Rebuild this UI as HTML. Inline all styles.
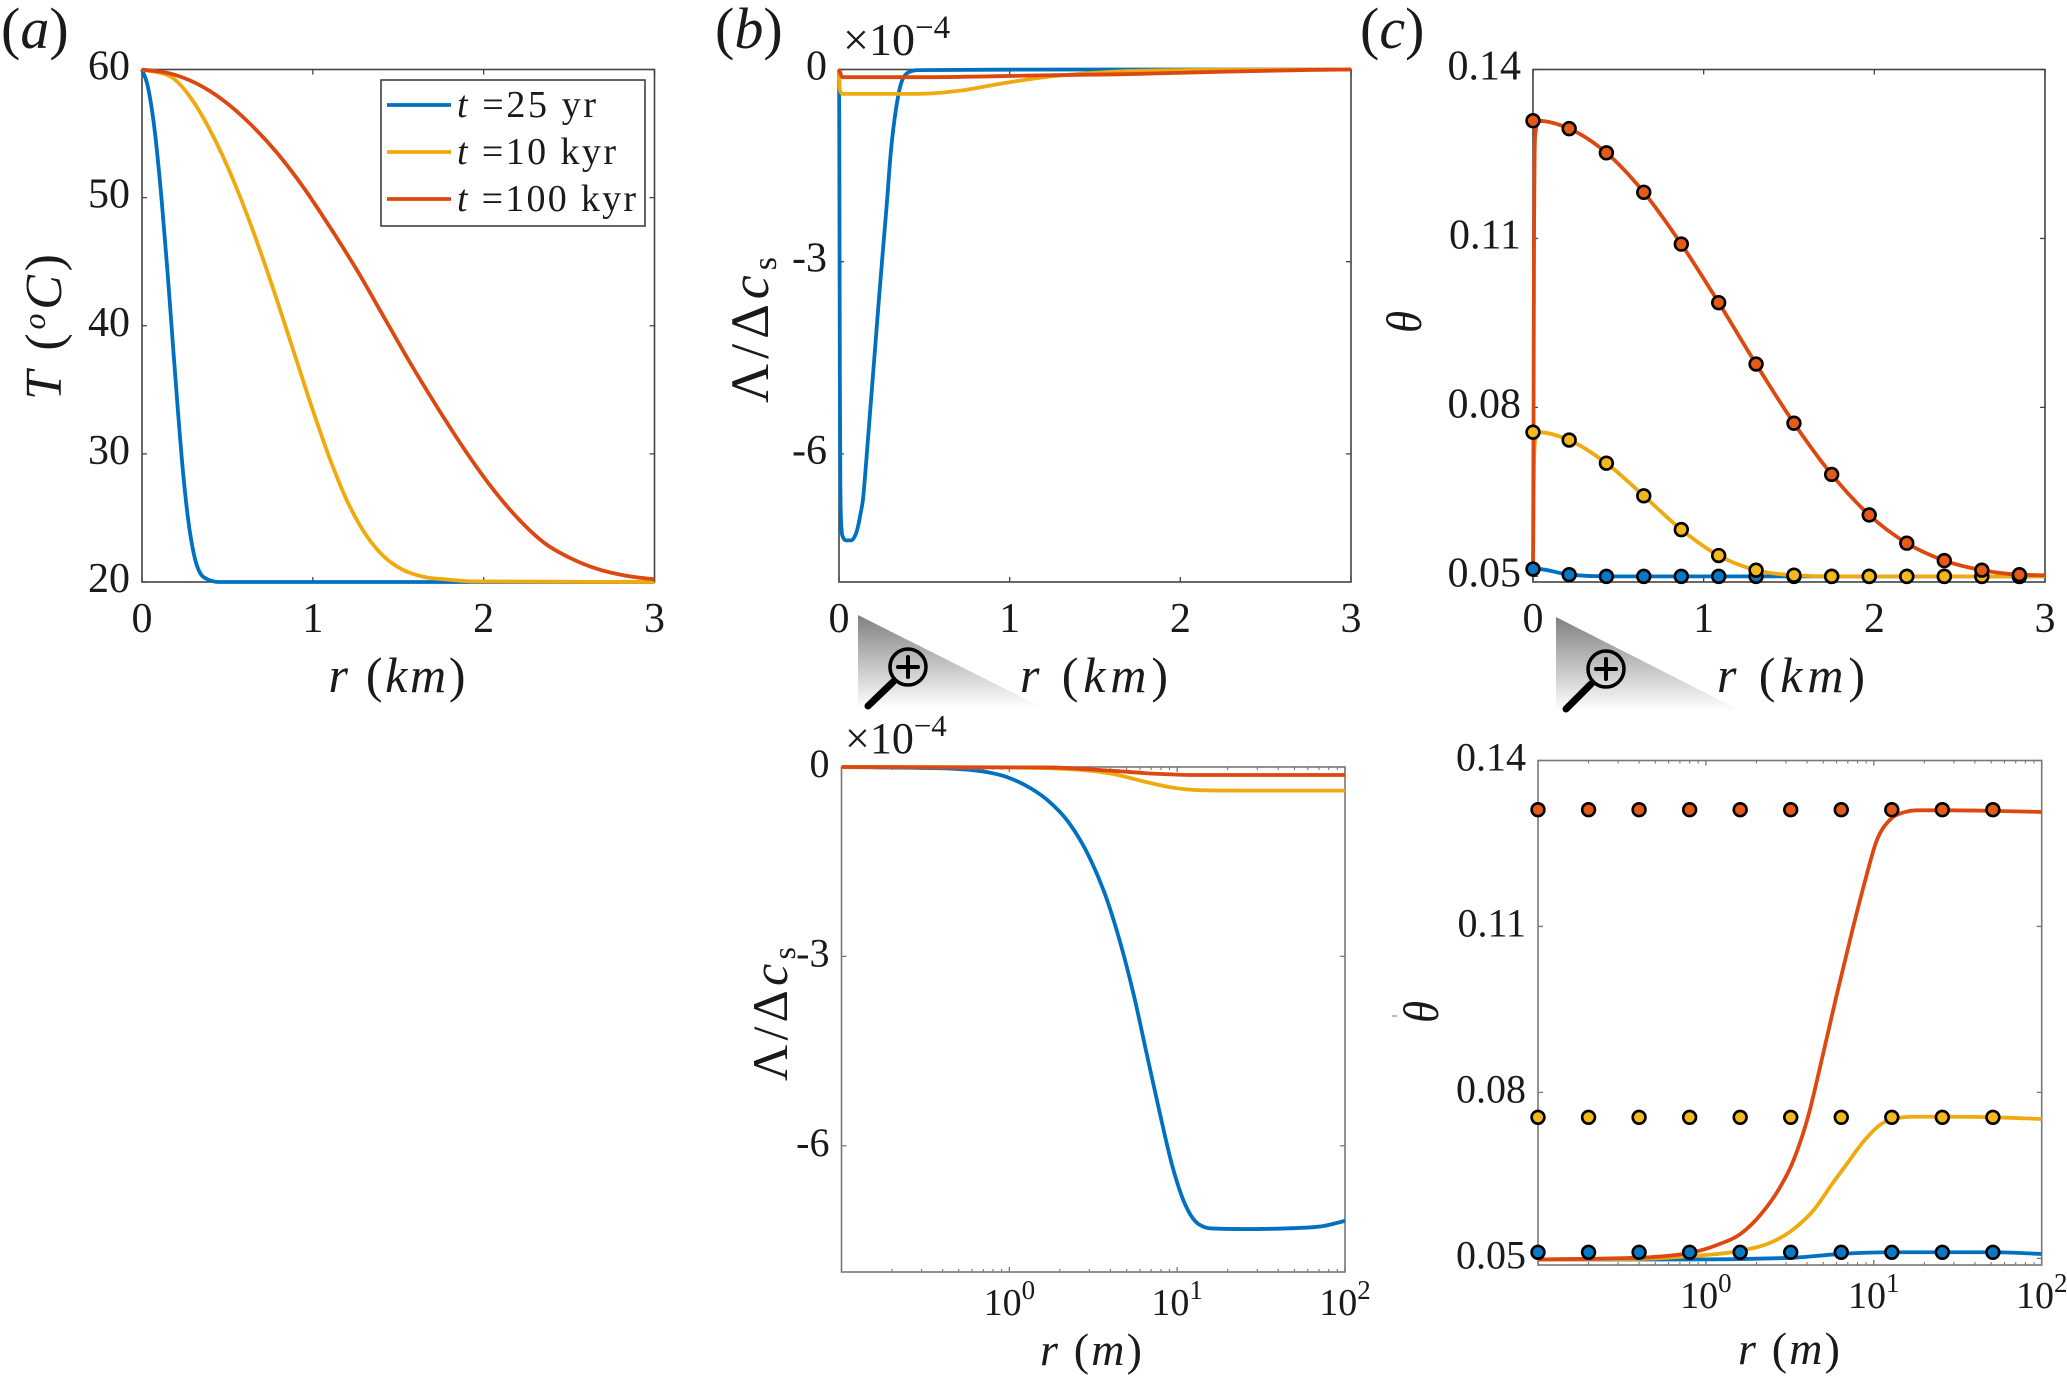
<!DOCTYPE html>
<html lang="en">
<head>
<meta charset="utf-8">
<title>Temperature, reaction rate and porosity profiles</title>
<style>
html,body{margin:0;padding:0;background:#fff;width:2067px;height:1381px;overflow:hidden}
svg{display:block;font-family:"Liberation Serif","DejaVu Serif",serif;fill:#1a1a1a}
</style>
</head>
<body>
<svg id="figure" xmlns="http://www.w3.org/2000/svg" width="2067" height="1381" viewBox="0 0 2067 1381">
  <defs>
    <linearGradient id="fade" x1="0" y1="0" x2="0" y2="1">
      <stop offset="0" stop-color="#808080"/>
      <stop offset="1" stop-color="#ffffff"/>
    </linearGradient>
  </defs>
  <text x="1" y="48" font-size="58">(<tspan font-style="italic">a</tspan>)</text>
  <text x="715" y="48" font-size="58">(<tspan font-style="italic">b</tspan>)</text>
  <text x="1360" y="48" font-size="58">(<tspan font-style="italic">c</tspan>)</text>

  <g>
    <polygon points="858,615 858,708 1043,708" fill="url(#fade)"/>
    <line x1="893" y1="682" x2="868" y2="706" stroke="#000" stroke-width="7" stroke-linecap="round"/>
    <circle cx="908" cy="667" r="18" fill="none" stroke="#000" stroke-width="3.5"/>
    <path d="M898 667H918M908 657V677" stroke="#000" stroke-width="4" stroke-linecap="round"/>
  </g>
  <g>
    <polygon points="1556,617 1556,711 1741,711" fill="url(#fade)"/>
    <line x1="1591" y1="684" x2="1566" y2="709" stroke="#000" stroke-width="7" stroke-linecap="round"/>
    <circle cx="1606" cy="669" r="18" fill="none" stroke="#000" stroke-width="3.5"/>
    <path d="M1596 669H1616M1606 659V679" stroke="#000" stroke-width="4" stroke-linecap="round"/>
  </g>

  <text transform="translate(61,327) rotate(-90)" text-anchor="middle" font-size="52" textLength="146"><tspan font-style="italic">T</tspan> (<tspan font-style="italic" font-size="32" dy="-16">o</tspan><tspan font-style="italic" dy="16">C</tspan>)</text>
  <text transform="translate(768,330) rotate(-90)" text-anchor="middle" font-size="54" textLength="146">Λ/Δ<tspan font-style="italic">c</tspan><tspan font-size="34" dy="8">s</tspan></text>
  <text transform="translate(787,1014) rotate(-90)" text-anchor="middle" font-size="50" textLength="134">Λ/Δ<tspan font-style="italic">c</tspan><tspan font-size="32" dy="8">s</tspan></text>
  <text transform="translate(1421,322) rotate(-90) scale(.9,1)" text-anchor="middle" font-size="50" font-style="italic">θ</text>
  <text transform="translate(1438,1012) rotate(-90) scale(.9,1)" text-anchor="middle" font-size="50" font-style="italic">θ</text>
  <line x1="1392" y1="1016" x2="1397" y2="1016" stroke="#888" stroke-width="1.2"/>

  <text x="397" y="692" text-anchor="middle" font-size="50" font-style="italic" textLength="137">r <tspan font-style="normal">(</tspan>km<tspan font-style="normal">)</tspan></text>
  <text x="1094" y="692" text-anchor="middle" font-size="50" font-style="italic" textLength="148">r <tspan font-style="normal">(</tspan>km<tspan font-style="normal">)</tspan></text>
  <text x="1791" y="692" text-anchor="middle" font-size="50" font-style="italic" textLength="148">r <tspan font-style="normal">(</tspan>km<tspan font-style="normal">)</tspan></text>
  <text x="1091" y="1365" text-anchor="middle" font-size="46" font-style="italic" textLength="102">r <tspan font-style="normal">(</tspan>m<tspan font-style="normal">)</tspan></text>
  <text x="1789" y="1364" text-anchor="middle" font-size="46" font-style="italic" textLength="102">r <tspan font-style="normal">(</tspan>m<tspan font-style="normal">)</tspan></text>

  <text x="843" y="55" font-size="46">×10<tspan font-size="33" dy="-17">−4</tspan></text>
  <text x="845" y="753" font-size="44">×10<tspan font-size="31" dy="-17">−4</tspan></text>

  <g id="plots"></g>

  <g>
    <rect x="381" y="80" width="264" height="146" fill="#fff" stroke="#333" stroke-width="1.5"/>
    <g>
      <line x1="387" y1="105" x2="451" y2="105" stroke="#0070c0" stroke-width="3.8"/>
      <text x="457" y="117" font-size="38" textLength="139"><tspan font-style="italic">t</tspan> =25 yr</text>
    </g>
    <g>
      <line x1="387" y1="152" x2="451" y2="152" stroke="#f0aa10" stroke-width="3.8"/>
      <text x="457" y="164" font-size="38" textLength="159"><tspan font-style="italic">t</tspan> =10 kyr</text>
    </g>
    <g>
      <line x1="387" y1="199" x2="451" y2="199" stroke="#dc4810" stroke-width="3.8"/>
      <text x="457" y="211" font-size="38" textLength="179"><tspan font-style="italic">t</tspan> =100 kyr</text>
    </g>
  </g>
</svg>

<script>
// ---- series labels ----
var seriesNames = ['25-yr', '10-kyr', '100-kyr'];

// ---- panel a: T(r), r in km ----
var tempBlueR = [0, .03, .07, .115, .15, .18, .21, .24, .27, .305, .345, .385, .45, 1, 1.8, 3];
var tempBlueT = [60, 58.9, 55.7, 49.8, 44.1, 38.7, 33.4, 28.6, 24.9, 22.1, 20.6, 20.2, 20, 20, 20, 20];
var tempYellowR = [0, .16, .29, .42, .555, .685, .79, .89, 1.0, 1.1, 1.205, 1.31, 1.415, 1.52, 1.65, 1.78, 1.94, 3];
var tempYellowT = [60, 59.5, 57.7, 54.7, 50.7, 46.1, 42, 37.9, 33.4, 29.6, 26.2, 23.7, 22, 21, 20.4, 20.2, 20.05, 20];
var tempRedR = [0, .16, .32, .475, .63, .79, .945, 1.1, 1.26, 1.415, 1.57, 1.73, 1.89, 2.04, 2.2, 2.36, 2.51, 2.67, 2.83, 3];
var tempRedT = [60, 59.7, 58.9, 57.6, 55.8, 53.5, 50.8, 47.7, 44.3, 40.7, 37.1, 33.6, 30.3, 27.5, 24.97, 23.0, 21.85, 21.0, 20.5, 20.2];
var tempXTicks = [0, 1, 2, 3];
var tempXLabels = ['0', '1', '2', '3'];
var tempYTicks = [20, 30, 40, 50, 60];
var tempYLabels = ['20', '30', '40', '50', '60'];

// ---- panel b top: rate (units of 1e-4), r in km ----
var rateKmBlueR = [0, .001, .003, .005, .008, .012, .02, .04, .07, .09, .11, .125, .14, .16, .185, .21, .235, .255, .28, .305, .335, .37, .41, .46, 1.5, 3];
var rateKmBlueV = [0, -.4, -2.5, -4.8, -6.5, -7.05, -7.28, -7.35, -7.35, -7.3, -7.15, -6.95, -6.72, -6.1, -5.25, -4.4, -3.55, -2.9, -2.1, -1.25, -.6, -.17, -.04, -.01, 0, 0];
var rateKmYellowR = [0, .005, .02, .2, .46, .71, .97, 1.22, 1.48, 1.73, 2.24, 3];
var rateKmYellowV = [0, -.32, -.38, -.38, -.38, -.33, -.21, -.115, -.055, -.022, -.005, 0];
var rateKmRedR = [0, .02, .5, 1.22, 1.73, 2.24, 2.75, 3];
var rateKmRedV = [0, -.12, -.12, -.09, -.07, -.035, -.007, 0];
var rateYTicks = [-6, -3, 0];
var rateYLabels = ['-6', '-3', '0'];

// ---- panel b bottom: rate (units of 1e-4), r in m ----
var rateMBlueR = [.1, .38, .648, 1, 1.32, 1.68, 2.26, 3.04, 3.85, 4.6, 5.5, 6.58, 7.86, 9.4, 11.2, 13.4, 16, 24.3, 44, 70.8, 100];
var rateMBlueV = [0, -.02, -.06, -.174, -.327, -.52, -.88, -1.463, -2.13, -2.8, -3.6, -4.54, -5.47, -6.34, -6.94, -7.24, -7.31, -7.32, -7.31, -7.28, -7.19];
var rateMYellowR = [.1, .925, 2.26, 4.09, 6.58, 9.4, 13.4, 24.3, 100];
var rateMYellowV = [0, -.007, -.033, -.107, -.24, -.327, -.367, -.374, -.374];
var rateMRedR = [.1, 1.68, 4.09, 7.41, 13.4, 100];
var rateMRedV = [0, -.007, -.06, -.107, -.127, -.127];
var logXTicks = [1, 10, 100];
var logXExponents = ['0', '1', '2'];

// ---- panel c top: theta, r in km ----
var thetaKmMarkerR = [0, .212, .43, .649, .869, 1.088, 1.307, 1.529, 1.75, 1.97, 2.19, 2.41, 2.63, 2.85];
var thetaKmRedM = [.1309, .1295, .1252, .1182, .1090, .0986, .0877, .0772, .0681, .0609, .0559, .0528, .0511, .0503];
var thetaKmYellowM = [.0756, .0742, .0701, .0643, .0583, .0537, .0511, .0502, .05, .05, .05, .05, .05, .05];
var thetaKmBlueM = [.0513, .0503, .05, .05, .05, .05, .05, .05, .05, .05, .05, .05, .05, .05];
var thetaKmRedR = [0, .003, .006, .012, .03, .212, .43, .649, .869, 1.088, 1.307, 1.529, 1.75, 1.97, 2.19, 2.41, 2.63, 2.85, 3];
var thetaKmRedV = [.05, .075, .11, .128, .1309, .1295, .1252, .1182, .1090, .0986, .0877, .0772, .0681, .0609, .0559, .0528, .0511, .0503, .0502];
var thetaKmYellowR = [0, .003, .006, .012, .03, .212, .43, .649, .869, 1.088, 1.307, 1.529, 1.75, 1.97, 3];
var thetaKmYellowV = [.05, .06, .07, .074, .0756, .0742, .0701, .0643, .0583, .0537, .0511, .0502, .05, .05, .05];
var thetaKmBlueR = [0, .01, .03, .212, .43, .649, 1.5, 3];
var thetaKmBlueV = [.05, .051, .0513, .0503, .05, .05, .05, .05];
var thetaYTicks = [.05, .08, .11, .14];
var thetaYLabels = ['0.05', '0.08', '0.11', '0.14'];

// ---- panel c bottom: theta, r in m ----
var thetaMMarkerR = [.1, .2, .4, .8, 1.6, 3.2, 6.4, 12.8, 25.6, 51.2];
var thetaMRedM = [.1311, .1311, .1311, .1311, .1311, .1311, .1311, .1311, .1311, .1311];
var thetaMYellowM = [.0755, .0755, .0755, .0755, .0755, .0755, .0755, .0755, .0755, .0755];
var thetaMBlueM = [.0511, .0511, .0511, .0511, .0511, .0511, .0511, .0511, .0511, .0511];
var thetaMRedR = [.1, .387, .804, 1.16, 1.62, 2.13, 2.72, 3.27, 4.05, 5, 6, 7.45, 8.9, 10.4, 12.5, 15, 18, 27.6, 50.8, 100];
var thetaMRedV = [.0498, .0501, .0510, .0524, .0545, .0580, .0625, .0672, .0755, .0871, .0975, .1093, .1184, .1255, .1293, .1306, .1310, .1310, .1309, .1307];
var thetaMYellowR = [.1, .387, .804, 1.62, 2.41, 3.27, 4.43, 5.66, 7, 8.67, 11.1, 13, 16.9, 27.6, 50.8, 100];
var thetaMYellowV = [.0498, .0499, .0504, .0514, .0528, .0551, .0589, .0635, .0673, .0711, .0743, .0752, .0756, .0756, .0755, .0752];
var thetaMBlueR = [.1, .804, 3.2, 6.4, 12.8, 50.8, 100];
var thetaMBlueV = [.0498, .0498, .0501, .0508, .0511, .0511, .0508];

var lineColors = ['#0070c0', '#f0aa10', '#dc4810'];
var markerColors = ['#0b78c6', '#f2b81c', '#e65a18'];
var NS = 'http://www.w3.org/2000/svg';
var root = document.getElementById('plots');

function make(tag, parent, attrs) {
  var el = document.createElementNS(NS, tag);
  for (var k in attrs) el.setAttribute(k, attrs[k]);
  parent.appendChild(el);
  return el;
}
function linScale(d0, d1, p0, p1) {
  return function (v) { return p0 + (v - d0) / (d1 - d0) * (p1 - p0); };
}
function logScale(d0, d1, p0, p1) {
  var a = Math.log10(d0), b = Math.log10(d1);
  return function (v) { return p0 + (Math.log10(v) - a) / (b - a) * (p1 - p0); };
}
// smooth monotone cubic path through the data-driven pixel points
function monotonePath(px, py) {
  var n = px.length, m = [], s = [], h = [], i;
  for (i = 0; i < n - 1; i++) {
    h[i] = Math.max(px[i + 1] - px[i], 1e-6);
    s[i] = (py[i + 1] - py[i]) / h[i];
  }
  m[0] = s[0]; m[n - 1] = s[n - 2];
  for (i = 1; i < n - 1; i++) {
    if (s[i - 1] * s[i] <= 0) { m[i] = 0; continue; }
    var c = (s[i - 1] * h[i] + s[i] * h[i - 1]) / (h[i - 1] + h[i]);
    var lim = 2 * Math.min(Math.abs(s[i - 1]), Math.abs(s[i]));
    m[i] = (c < 0 ? -1 : 1) * Math.min(Math.abs(c), lim);
  }
  var d = 'M' + px[0].toFixed(2) + ' ' + py[0].toFixed(2);
  for (i = 0; i < n - 1; i++) {
    var t = h[i] / 3;
    d += 'C' + (px[i] + t).toFixed(2) + ' ' + (py[i] + m[i] * t).toFixed(2) + ' ' +
      (px[i + 1] - t).toFixed(2) + ' ' + (py[i + 1] - m[i + 1] * t).toFixed(2) + ' ' +
      px[i + 1].toFixed(2) + ' ' + py[i + 1].toFixed(2);
  }
  return d;
}

function drawPanel(cfg) {
  var g = make('g', root, {});
  
  
  var L = cfg.left, R = cfg.right, T = cfg.top, B = cfg.bottom;
  var x = cfg.log ? logScale(cfg.xDomain[0], cfg.xDomain[1], L, R) : linScale(cfg.xDomain[0], cfg.xDomain[1], L, R);
  var y = linScale(cfg.yDomain[0], cfg.yDomain[1], B, T);
  var col = cfg.axisColor, w = 1.6;

  var frame = make('rect', g, { x: L, y: T, width: R - L, height: B - T, fill: 'none', stroke: col, 'stroke-width': w });
  
  

  cfg.yTicks.forEach(function (v, i) {
    var py = y(v);
    var tk = make('path', g, { d: 'M' + L + ' ' + py + 'h5M' + R + ' ' + py + 'h-5', stroke: col, 'stroke-width': 1.3, fill: 'none' });
    
    
    var lb = make('text', g, { x: L - 12, y: py + 10, 'text-anchor': 'end', 'font-size': cfg.tickFont });
    
    
    lb.textContent = cfg.yLabels[i];
  });

  if (cfg.log) {
    for (var e = -1; e < 2; e++) {
      for (var k = 2; k < 10; k++) {
        var mx = x(k * Math.pow(10, e));
        var mn = make('path', g, { d: 'M' + mx + ' ' + B + 'v-3M' + mx + ' ' + T + 'v3', stroke: col, 'stroke-width': 1.1, fill: 'none' });
        
        
      }
    }
    logXTicks.forEach(function (v, i) {
      var px = x(v);
      var tk = make('path', g, { d: 'M' + px + ' ' + B + 'v-5M' + px + ' ' + T + 'v5', stroke: col, 'stroke-width': 1.3, fill: 'none' });
      
      
      var lb = make('text', g, { x: px, y: B + 43, 'text-anchor': 'middle', 'font-size': 38 });
      
      
      lb.textContent = '10';
      var sup = make('tspan', lb, { 'font-size': 27, dy: -16 });
      sup.textContent = logXExponents[i];
    });
  } else {
    tempXTicks.forEach(function (v, i) {
      var px = x(v);
      var tk = make('path', g, { d: 'M' + px + ' ' + B + 'v-5M' + px + ' ' + T + 'v5', stroke: col, 'stroke-width': 1.3, fill: 'none' });
      
      
      var lb = make('text', g, { x: px, y: B + 50, 'text-anchor': 'middle', 'font-size': cfg.tickFont });
      
      
      lb.textContent = tempXLabels[i];
    });
  }

  cfg.lines.forEach(function (s, i) {
    var p = make('path', g, {
      d: monotonePath(s[0].map(x), s[1].map(y)), fill: 'none',
      stroke: lineColors[i], 'stroke-width': 3.8, 'stroke-linejoin': 'round'
    });
    
    
  });

  if (cfg.markers) {
    cfg.markers.forEach(function (vals, i) {
      vals.forEach(function (v, j) {
        var c = make('circle', g, {
          cx: x(cfg.markerR[j]), cy: y(v), r: 6.4,
          fill: markerColors[i], stroke: '#000', 'stroke-width': 2.6
        });
        
        
      });
    });
  }
}

drawPanel({
  id: 'a', left: 142, right: 654.5, top: 69.5, bottom: 582, axisColor: '#444', tickFont: 42,
  xDomain: [0, 3], yDomain: [20, 60], yTicks: tempYTicks, yLabels: tempYLabels,
  lines: [[tempBlueR, tempBlueT], [tempYellowR, tempYellowT], [tempRedR, tempRedT]]
});
drawPanel({
  id: 'b-top', left: 839, right: 1351, top: 69.5, bottom: 582, axisColor: '#444', tickFont: 42,
  xDomain: [0, 3], yDomain: [-8, 0], yTicks: rateYTicks, yLabels: rateYLabels,
  lines: [[rateKmBlueR, rateKmBlueV], [rateKmYellowR, rateKmYellowV], [rateKmRedR, rateKmRedV]]
});
drawPanel({
  id: 'c-top', left: 1533, right: 2045, top: 69.5, bottom: 582, axisColor: '#444', tickFont: 42,
  xDomain: [0, 3], yDomain: [.049, .14], yTicks: thetaYTicks, yLabels: thetaYLabels,
  lines: [[thetaKmBlueR, thetaKmBlueV], [thetaKmYellowR, thetaKmYellowV], [thetaKmRedR, thetaKmRedV]],
  markerR: thetaKmMarkerR, markers: [thetaKmBlueM, thetaKmYellowM, thetaKmRedM]
});
drawPanel({
  id: 'b-bottom', log: true, left: 841.5, right: 1345, top: 767, bottom: 1272, axisColor: '#777', tickFont: 40,
  xDomain: [.1, 100], yDomain: [-8, 0], yTicks: rateYTicks, yLabels: rateYLabels,
  lines: [[rateMBlueR, rateMBlueV], [rateMYellowR, rateMYellowV], [rateMRedR, rateMRedV]]
});
drawPanel({
  id: 'c-bottom', log: true, left: 1538, right: 2041.7, top: 760.5, bottom: 1265, axisColor: '#777', tickFont: 40,
  xDomain: [.1, 100], yDomain: [.0488, .14], yTicks: thetaYTicks, yLabels: thetaYLabels,
  lines: [[thetaMBlueR, thetaMBlueV], [thetaMYellowR, thetaMYellowV], [thetaMRedR, thetaMRedV]],
  markerR: thetaMMarkerR, markers: [thetaMBlueM, thetaMYellowM, thetaMRedM]
});
</script>
</body>
</html>
